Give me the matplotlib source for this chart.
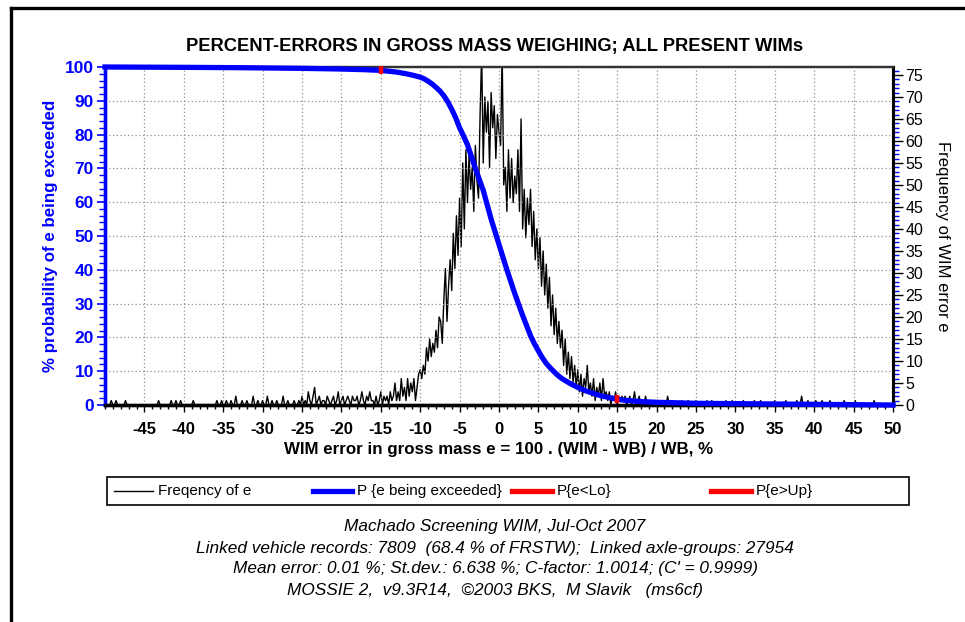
import numpy as np
import matplotlib
matplotlib.use('Agg')
import matplotlib.pyplot as plt
from matplotlib.lines import Line2D
from matplotlib.patches import Rectangle
from matplotlib.ticker import MultipleLocator, FixedLocator

plt.rcParams['font.family'] = ['Liberation Sans', 'DejaVu Sans']
plt.rcParams['axes.unicode_minus'] = False

W, H = 965, 622

# frequency of WIM error e, 0.2 % bins, dense part from -26.0 to 20.0
dense_start = -26.0
freq_dense = [
    1, 0, 0, 1, 0, 2, 0, 1, 0, 3,        # -26.0 .. -24.2
    1, 0, 2, 4, 0, 1, 2, 0, 1, 1,        # -24.0 .. -22.2
    0, 2, 1, 0, 1, 2, 0, 1, 3, 0,        # -22.0 .. -20.2
    1, 2, 0, 1, 2, 1, 0, 2, 1, 1,        # -20.0 .. -18.2
    2, 0, 1, 3, 1, 0, 2, 1, 3, 1,        # -18.0 .. -16.2
    1, 0, 2, 0, 1, 3, 0, 2, 1, 2,        # -16.0 .. -14.2
    0, 3, 1, 2, 5, 1, 3, 1, 6, 2,        # -14.0 .. -12.2
    4, 1, 6, 2, 5, 3, 6, 1, 4, 7,        # -12.0 .. -10.2
    8, 6, 9, 7, 13, 10, 15, 11, 14, 12,  # -10.0 .. -8.2
    17, 13, 20, 19, 14, 24, 31, 19, 27, 33,  # -8.0 .. -6.2
    26, 39, 31, 43, 34, 47, 36, 55, 40, 58,  # -6.0 .. -4.2
    46, 57, 49, 54, 44, 59, 51, 47, 66, 80,  # -4.0 .. -2.2
    55, 70, 62, 69, 54, 71, 63, 68, 56, 66,  # -2.0 .. -0.2
    62, 59, 80, 50, 54, 44, 58, 47, 56, 46,  # 0.0 .. 1.8
    52, 48, 58, 44, 65, 40, 49, 38, 47, 41,  # 2.0 .. 3.8
    49, 36, 44, 33, 40, 31, 38, 27, 35, 25,  # 4.0 .. 5.8
    32, 22, 29, 18, 25, 16, 22, 14, 19, 13,  # 6.0 .. 7.8
    17, 9, 15, 7, 12, 6, 11, 5, 9, 4,        # 8.0 .. 9.8
    8, 3, 7, 2, 6, 4, 9, 3, 5, 2,            # 10.0 .. 11.8
    6, 1, 4, 2, 5, 1, 6, 2, 3, 1,            # 12.0 .. 13.8
    3, 0, 2, 1, 3, 0, 2, 1, 2, 1,            # 14.0 .. 15.8
    2, 0, 1, 2, 0, 1, 3, 0, 1, 2,            # 16.0 .. 17.8
    0, 1, 0, 2, 0, 1, 0, 0, 1, 0,            # 18.0 .. 19.8
    0,                                       # 20.0
]

# isolated counts in the tails
tail_e = [-49.2, -48.6, -47.4, -43.2, -41.6, -41.0, -40.4, -38.8, -35.8, -35.2,
          -34.6, -34.0, -33.4, -32.6, -32.0, -31.2, -30.6, -30.0, -29.4, -28.8,
          -28.2, -27.4, -26.8,
          20.6, 21.4, 22.0, 23.2, 24.0, 25.0, 26.4, 27.0, 28.8, 29.6, 31.0,
          32.4, 33.2, 35.0, 36.4, 37.8, 38.4, 39.2, 40.2, 41.0, 42.0, 43.8,
          45.2, 47.6]
tail_n = [1, 1, 1, 1, 1, 1, 1, 1, 1, 1,
          1, 1, 2, 1, 1, 2, 1, 1, 2, 1,
          1, 2, 1,
          1, 2, 1, 1, 1, 1, 1, 1, 1, 1, 1,
          1, 1, 1, 1, 1, 2, 1, 1, 1, 1, 1,
          1, 1]

# P{e being exceeded}, %
blue_e = [-50, -40, -33, -25, -20, -17, -15, -13, -12, -11, -10.5, -10, -9.5,
          -9, -8.5, -8, -7.5, -7, -6.5, -6, -5.5, -5, -4.5, -4, -3, -2, -1, 0,
          1, 2, 3, 4, 4.5, 5, 5.5, 6, 6.5, 7, 7.5, 8, 9, 10, 11, 12, 13, 14,
          15, 16, 17, 18, 20, 25, 30, 40, 50]
blue_p = [100, 99.9, 99.8, 99.6, 99.4, 99.2, 99.0, 98.5, 98.1, 97.6, 97.3, 97.0,
          96.5, 95.8, 95.0, 94.0, 92.9, 91.5, 89.7, 87.5, 85.0, 82.0, 79.6,
          77.0, 70.0, 63.5, 55.0, 47.5, 40.0, 33.0, 26.5, 20.5, 18.1, 16.0,
          14.0, 12.3, 11.0, 9.8, 8.7, 7.8, 6.4, 5.2, 4.2, 3.4, 2.7, 2.2, 1.7,
          1.4, 1.2, 1.0, 0.8, 0.5, 0.4, 0.2, 0.0]

lo_e, lo_p = -15, 99.0
up_e, up_p = 15, 1.7

xticks = [-45, -40, -35, -30, -25, -20, -15, -10, -5, 0, 5, 10, 15, 20, 25, 30,
          35, 40, 45, 50]

# build the binned frequency series
e_grid = np.arange(-250, 251) * 0.2
freq = np.zeros(len(e_grid))
i0 = int(round((dense_start + 50) / 0.2))
freq[i0:i0 + len(freq_dense)] = freq_dense
for e, n in zip(tail_e, tail_n):
    freq[int(round((e + 50) / 0.2))] = n


def fx(px):
    return px / W


def fy(py):
    return 1 - py / H


fig = plt.figure(figsize=(W / 100, H / 100), dpi=100)
fig.patch.set_facecolor('white')

ax = fig.add_axes([fx(105), fy(405), fx(893) - fx(105), (405 - 67) / H])
ax2 = ax.twinx()
ax.set_zorder(ax2.get_zorder() + 1)
ax.patch.set_visible(False)

# frequency line on the right axis
ax2.plot(e_grid, freq, color='black', lw=1.0)
ax2.set_ylim(0, 76.8)
ax2.yaxis.set_major_locator(MultipleLocator(5))
ax2.yaxis.set_minor_locator(MultipleLocator(1))
ax2.tick_params(axis='y', which='major', direction='out', length=7, width=1,
                colors='black', labelsize=11.5, pad=2)
ax2.tick_params(axis='y', which='minor', direction='out', length=4, width=1,
                color='blue')
ax2.set_ylabel('Frequency of WIM error e', rotation=270, fontsize=12,
               labelpad=19)

# exceedance curve on the left axis
ax.plot(blue_e, blue_p, color='blue', lw=3.8, clip_on=False, zorder=3,
        solid_joinstyle='round')
ax.plot([lo_e], [lo_p], marker='|', color='red', ms=6, mew=3.2, ls='none',
        zorder=4, clip_on=False)
ax.plot([up_e], [up_p], marker='|', color='red', ms=6, mew=3.2, ls='none',
        zorder=4, clip_on=False)

ax.set_xlim(-50, 50)
ax.set_ylim(0, 100)
ax.xaxis.set_major_locator(FixedLocator(xticks))
ax.xaxis.set_minor_locator(MultipleLocator(1))
ax.yaxis.set_major_locator(MultipleLocator(10))
ax.yaxis.set_minor_locator(MultipleLocator(2))
ax.grid(True, which='major', ls=(0, (1, 2)), color='#909090', lw=0.9)

ax.tick_params(axis='x', which='major', direction='out', length=5, width=1,
               labelsize=12, pad=7)
ax.tick_params(axis='x', which='minor', direction='out', length=3, width=1)
for lab in ax.get_xticklabels():
    lab.set_fontweight('bold')
ax.tick_params(axis='y', which='major', direction='out', length=6, width=1.2,
               colors='blue', labelsize=12.5, pad=2)
ax.tick_params(axis='y', which='minor', direction='out', length=4, width=1,
               color='blue')
for lab in ax.get_yticklabels():
    lab.set_fontweight('bold')

ax.set_xlabel('WIM error in gross mass e = 100 . (WIM - WB) / WB, %',
              fontsize=12.2, fontweight='bold', labelpad=4)
ax.set_ylabel('% probability of e being exceeded', fontsize=12.2,
              fontweight='bold', color='blue', labelpad=5)

for a in (ax, ax2):
    a.spines['left'].set_color('blue')
    a.spines['left'].set_linewidth(2.4)
    a.spines['bottom'].set_linewidth(2.4)
    a.spines['right'].set_linewidth(2.2)
    a.spines['top'].set_linewidth(1.6)
    a.spines['top'].set_color('#333333')

fig.text(fx(495), fy(46), 'PERCENT-ERRORS IN GROSS MASS WEIGHING; ALL PRESENT WIMs',
         ha='center', va='center', fontsize=13.2, fontweight='bold')

# legend box
fig.add_artist(Rectangle((fx(107), fy(505)), fx(909) - fx(107), (505 - 477) / H,
                         transform=fig.transFigure, fill=False, lw=1.2,
                         ec='black'))
leg_items = [(114, 153, 'black', 1.0, 'Freqency of e'),
             (313, 352, 'blue', 3.8, 'P {e being exceeded}'),
             (512, 552, 'red', 3.8, 'P{e<Lo}'),
             (711, 751, 'red', 3.8, 'P{e>Up}')]
for x1, x2, c, lw, txt in leg_items:
    fig.add_artist(Line2D([fx(x1), fx(x2)], [fy(491), fy(491)],
                          transform=fig.transFigure, color=c, lw=lw))
    fig.text(fx(x2 + 5), fy(491), txt, ha='left', va='center', fontsize=11)

footer = ['Machado Screening WIM, Jul-Oct 2007',
          'Linked vehicle records: 7809  (68.4 % of FRSTW);  Linked axle-groups: 27954',
          "Mean error: 0.01 %; St.dev.: 6.638 %; C-factor: 1.0014; (C' = 0.9999)",
          'MOSSIE 2,  v9.3R14,  \u00a92003 BKS,  M Slavik   (ms6cf)']
for py, txt in zip([527, 548, 569, 590], footer):
    fig.text(fx(495), fy(py), txt, ha='center', va='center', fontsize=12.4,
             style='italic')

# outer frame
fig.add_artist(Line2D([fx(11), fx(11)], [fy(8), 0], transform=fig.transFigure,
                      color='black', lw=2.4))
fig.add_artist(Line2D([fx(11), 1], [fy(8), fy(8)], transform=fig.transFigure,
                      color='black', lw=2.4))

fig.savefig('out.png', dpi=100)
